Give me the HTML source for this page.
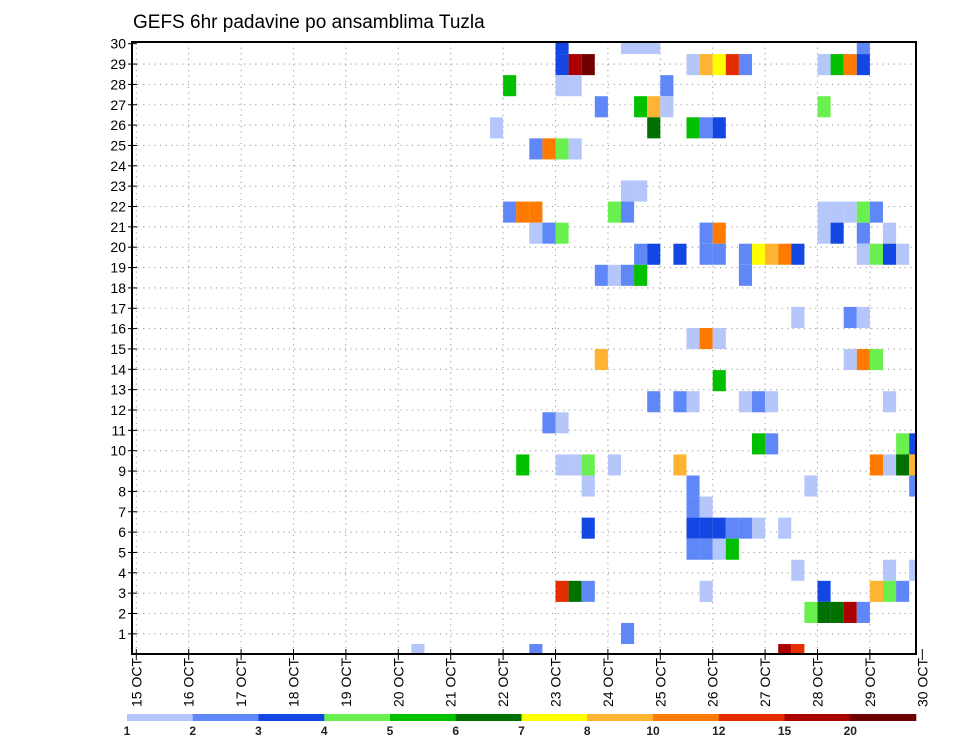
<!DOCTYPE html>
<html><head><meta charset="utf-8"><style>
html,body{margin:0;padding:0;background:#fff;}
svg{display:block;font-family:"Liberation Sans",sans-serif;}
</style></head><body>
<svg id="chart" width="960" height="742" viewBox="0 0 960 742" xmlns="http://www.w3.org/2000/svg">
<text x="133" y="28" font-size="19" fill="#000">GEFS 6hr padavine po ansamblima Tuzla</text>
<g id="grid"></g>
<g id="cells"></g>
<g id="axes"></g>
<g id="legend"></g>
</svg>
<script>
// ---- data ----
const dayLabels = ["15 OCT","16 OCT","17 OCT","18 OCT","19 OCT","20 OCT","21 OCT","22 OCT","23 OCT","24 OCT","25 OCT","26 OCT","27 OCT","28 OCT","29 OCT","30 OCT"];
const memberLabels = [1,2,3,4,5,6,7,8,9,10,11,12,13,14,15,16,17,18,19,20,21,22,23,24,25,26,27,28,29,30];
const legendLabels = ["1","2","3","4","5","6","7","8","10","12","15","20"];
const legendColors = ["#b4c6fa","#5f87f8","#1346e2","#6af04e","#00c000","#007000","#ffff00","#ffb332","#ff7a00","#e62d00","#aa0000","#6e0000"];
// ensemble member band index (0 = bottom), time step index (6h steps from 15 OCT 00Z), precip class index
const cellMember = [29,29,29,29,29, 28,28,28,28,28,28,28,28,28,28,28,28, 27,27,27,27, 26,26,26,26,26, 25,25,25,25,25, 24,24,24,24, 22,22, 21,21,21,21,21,21,21,21,21,21, 20,20,20,20,20,20,20,20,20, 19,19,19,19,19,19,19,19,19,19,19,19,19,19, 18,18,18,18,18, 16,16,16, 15,15,15, 14,14,14,14, 13, 12,12,12,12,12,12,12, 11,11, 10,10,10,10, 9,9,9,9,9,9,9,9,9,9, 8,8,8,8, 7,7, 6,6,6,6,6,6,6,6, 5,5,5,5, 4,4,4, 3,3,3,3,3,3,3,3, 2,2,2,2,2, 1, 0,0,0,0];
const cellStep   = [32,37,38,39,55, 32,33,34,42,43,44,45,46,52,53,54,55, 28,32,33,40, 35,38,39,40,52, 27,39,42,43,44, 30,31,32,33, 37,38, 28,29,30,36,37,52,53,54,55,56, 30,31,32,43,44,52,53,55,57, 38,39,41,43,44,46,47,48,49,50,55,56,57,58, 35,36,37,38,46, 50,54,55, 42,43,44, 35,54,55,56, 44, 39,41,42,46,47,48,57, 31,32, 47,48,58,59, 29,32,33,34,36,41,56,57,58,59, 34,42,51,59, 42,43, 34,42,43,44,45,46,47,49, 42,43,44,45, 50,57,59, 32,33,34,43,52,56,57,58, 51,52,53,54,55, 37, 21,30,49,50];
const cellClass  = [2,0,0,0,1, 2,10,11,0,7,6,9,1,0,4,8,2, 4,0,0,1, 1,4,7,0,3, 0,5,4,1,2, 1,8,3,0, 0,0, 1,8,8,3,1,0,0,0,3,1, 0,1,3,1,8,0,2,1,0, 1,2,2,1,1,1,6,7,8,2,0,3,2,0, 1,0,1,4,1, 0,1,0, 0,8,0, 7,0,8,3, 4, 1,1,0,0,1,0,0, 1,0, 4,1,3,2, 4,0,0,3,0,7,8,0,5,7, 0,1,0,1, 1,0, 2,2,2,2,1,1,0,0, 1,1,0,4, 0,0,0, 9,5,1,0,2,7,3,1, 3,5,5,10,1, 1, 0,1,10,9];

// ---- geometry ----
const L=132, R=916, T=42, B=654;
const x0=136.3, stepW=13.1;
const xStep = s => x0 + s*stepW;
const xDay = d => x0 + d*4*stepW;
const bandH = 21.07;
const yBand = m => 633.5 - (m-1)*bandH;
const yLabel = k => 654.2 - k*20.35;
const NS="http://www.w3.org/2000/svg";
function mk(tag, attrs, parent){const e=document.createElementNS(NS,tag);for(const k in attrs)e.setAttribute(k,attrs[k]);parent.appendChild(e);return e;}

const grid=document.getElementById('grid');
memberLabels.forEach(k=>{
  if(k>=30) return;
  const ln=mk('line',{x1:L,x2:R,y1:yLabel(k),y2:yLabel(k),stroke:'#999','stroke-width':1.1,'stroke-dasharray':'1.1 4.5'},grid);
  
  
});
dayLabels.forEach((d,i)=>{
  const x=xDay(i); if(x<=L+2||x>=R) return;
  const ln=mk('line',{x1:x,x2:x,y1:T,y2:B,stroke:'#999','stroke-width':1.1,'stroke-dasharray':'1.1 4.5'},grid);
  
  
});

const cells=document.getElementById('cells');
for(let i=0;i<cellMember.length;i++){
  let xa=xStep(cellStep[i]), xb=xStep(cellStep[i]+1);
  let yc=yBand(cellMember[i]);
  let ya=yc-bandH/2, yb=yc+bandH/2;
  xa=Math.max(xa,L); xb=Math.min(xb,R); ya=Math.max(ya,T); yb=Math.min(yb,B);
  const r=mk('rect',{x:xa,y:ya,width:xb-xa,height:yb-ya,fill:legendColors[cellClass[i]]},cells);
  
  
}

const axes=document.getElementById('axes');
const frame=mk('rect',{x:L,y:T,width:R-L,height:B-T,fill:'none',stroke:'#000','stroke-width':2},axes);


memberLabels.forEach(k=>{
  const y=yLabel(k);
  const t=mk('line',{x1:L-4,x2:L+5,y1:y,y2:y,stroke:'#000','stroke-width':1},axes);
  
  
  const tx=mk('text',{x:L-6,y:y+5,'font-size':14,'text-anchor':'end',fill:'#000'},axes);
  tx.textContent=k;
  
  
});
dayLabels.forEach((d,i)=>{
  const x=xDay(i);
  const t=mk('line',{x1:x,x2:x,y1:B-5,y2:B+6,stroke:'#000','stroke-width':1},axes);
  
  
  const tx=mk('text',{x:0,y:0,'font-size':14,'text-anchor':'end',fill:'#000',transform:`translate(${x+5},658) rotate(-90)`},axes);
  tx.textContent=d;
  
  
});

const lg=document.getElementById('legend');
const cbL=127, cbR=916, segW=(cbR-cbL)/legendColors.length;
legendColors.forEach((c,i)=>{
  const r=mk('rect',{x:cbL+i*segW,y:714,width:segW+0.3,height:7,fill:c},lg);
  
  
});
legendLabels.forEach((s,i)=>{
  const tx=mk('text',{x:cbL+i*segW,y:735,'font-size':12,'font-weight':'bold','text-anchor':'middle',fill:'#222'},lg);
  tx.textContent=s;
  
  
});
</script>
</body></html>
